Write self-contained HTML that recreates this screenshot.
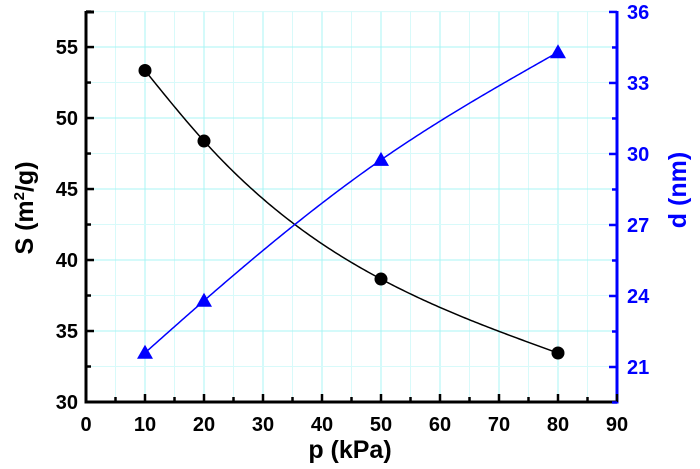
<!DOCTYPE html>
<html><head><meta charset="utf-8"><style>
html,body{margin:0;padding:0;background:#fff;}
svg{display:block;font-family:"Liberation Sans",Arial,sans-serif;font-weight:bold;}
</style></head><body>
<svg id="chart" width="700" height="469" viewBox="0 0 700 469">
<g id="grid"></g>
<g id="axes"></g>
<g id="series"></g>
<text x="350" y="458" text-anchor="middle" font-size="25" fill="#000">p (kPa)</text>
<text transform="translate(33,208) rotate(-90)" text-anchor="middle" font-size="25" fill="#000">S (m<tspan font-size="15" dy="-9">2</tspan><tspan dy="9">/g)</tspan></text>
<text transform="translate(686,190) rotate(-90)" text-anchor="middle" font-size="25" fill="#0000ff">d (nm)</text>
</svg>
<script>
const pressures = [10, 20, 50, 80];
const surfaceArea = [53.35, 48.38, 38.66, 33.45];
const diameter = [21.6, 23.8, 29.75, 34.3];
const xTicks = [0, 10, 20, 30, 40, 50, 60, 70, 80, 90];
const leftTicks = [30, 35, 40, 45, 50, 55];
const rightTicks = [21, 24, 27, 30, 33, 36];

const L = 86, R = 617, T = 11, B = 402;
const X = v => L + (v - 0) / 90 * (R - L);
const YL = v => B - (v - 30) / (57.54 - 30) * (B - T);
const YR = v => 367 - (v - 21) * 23.67;
const NS = "http://www.w3.org/2000/svg";
function mk(tag, attrs, parent) {
  const e = document.createElementNS(NS, tag);
  for (const k in attrs) e.setAttribute(k, attrs[k]);
  parent.appendChild(e); return e;
}
const grid = document.getElementById('grid');
const axes = document.getElementById('axes');
const series = document.getElementById('series');

for (let v = 5; v < 90; v += 5) {
  const g = mk('line', {x1: X(v), x2: X(v), y1: T, y2: B, stroke: v % 10 ? '#d8fafa' : '#a8f4f4', 'stroke-width': 1}, grid);
  
  
}
for (let v = 32.5; v < 57.6; v += 2.5) {
  const g = mk('line', {x1: L, x2: R, y1: YL(v), y2: YL(v), stroke: (v % 5) ? '#d8fafa' : '#a8f4f4', 'stroke-width': 1}, grid);
  
  
}

let a = mk('line', {x1: L, x2: L, y1: T, y2: B + 1.5, stroke: '#000', 'stroke-width': 3}, axes);
 
a = mk('line', {x1: L, x2: R, y1: B, y2: B, stroke: '#000', 'stroke-width': 3}, axes);
 
a = mk('line', {x1: R, x2: R, y1: T, y2: B + 1.5, stroke: '#0000ff', 'stroke-width': 3}, axes);
 
mk('line', {x1: L, x2: L + 8, y1: T + 1, y2: T + 1, stroke: '#000', 'stroke-width': 3}, axes);

xTicks.forEach(v => {
  mk('line', {x1: X(v), x2: X(v), y1: B, y2: B - 8, stroke: '#000', 'stroke-width': 2.5}, axes);
  if (v < 90) mk('line', {x1: X(v + 5), x2: X(v + 5), y1: B, y2: B - 5, stroke: '#000', 'stroke-width': 2.5}, axes);
  const t = mk('text', {x: X(v), y: B + 29, 'text-anchor': 'middle', 'font-size': 20, fill: '#000'}, axes);
  t.textContent = v;
  
  
});
leftTicks.forEach(v => {
  mk('line', {x1: L, x2: L + 8, y1: YL(v), y2: YL(v), stroke: '#000', 'stroke-width': 2.5}, axes);
  mk('line', {x1: L, x2: L + 5, y1: YL(v + 2.5), y2: YL(v + 2.5), stroke: '#000', 'stroke-width': 2.5}, axes);
  const t = mk('text', {x: L - 8, y: YL(v) + 7, 'text-anchor': 'end', 'font-size': 20, fill: '#000'}, axes);
  t.textContent = v;
  
  
});
rightTicks.forEach(v => {
  mk('line', {x1: R, x2: R - 8, y1: YR(v), y2: YR(v), stroke: '#0000ff', 'stroke-width': 2.5}, axes);
  mk('line', {x1: R, x2: R - 5, y1: YR(v - 1.5), y2: YR(v - 1.5), stroke: '#0000ff', 'stroke-width': 2.5}, axes);
  const t = mk('text', {x: R + 10, y: YR(v) + 7, 'text-anchor': 'start', 'font-size': 20, fill: '#0000ff'}, axes);
  t.textContent = v;
  
  
});

// natural cubic spline through points (x increasing)
function spline(xs, ys) {
  const n = xs.length, h = [], al = [], l = [1], mu = [0], z = [0], c = new Array(n).fill(0), b = [], d = [];
  for (let i = 0; i < n - 1; i++) h[i] = xs[i + 1] - xs[i];
  for (let i = 1; i < n - 1; i++) al[i] = 3 / h[i] * (ys[i + 1] - ys[i]) - 3 / h[i - 1] * (ys[i] - ys[i - 1]);
  for (let i = 1; i < n - 1; i++) {
    l[i] = 2 * (xs[i + 1] - xs[i - 1]) - h[i - 1] * mu[i - 1];
    mu[i] = h[i] / l[i];
    z[i] = (al[i] - h[i - 1] * z[i - 1]) / l[i];
  }
  for (let j = n - 2; j >= 0; j--) {
    c[j] = (j > 0 ? z[j] : 0) - mu[j] * c[j + 1];
    b[j] = (ys[j + 1] - ys[j]) / h[j] - h[j] * (c[j + 1] + 2 * c[j]) / 3;
    d[j] = (c[j + 1] - c[j]) / (3 * h[j]);
  }
  c[0] = 0;
  return x => {
    let i = 0;
    while (i < n - 2 && x > xs[i + 1]) i++;
    const dx = x - xs[i];
    return ys[i] + b[i] * dx + c[i] * dx * dx + d[i] * dx * dx * dx;
  };
}
function curvePath(xs, ys, yFn) {
  const f = spline(xs, ys);
  let d = '';
  const x0 = xs[0], x1 = xs[xs.length - 1];
  for (let k = 0; k <= 200; k++) {
    const x = x0 + (x1 - x0) * k / 200;
    d += (k ? 'L' : 'M') + X(x).toFixed(2) + ',' + yFn(f(x)).toFixed(2);
  }
  return d;
}
let ln = mk('path', {d: curvePath(pressures, surfaceArea, YL), fill: 'none', stroke: '#000', 'stroke-width': 1.5}, series);
 
ln = mk('path', {d: curvePath(pressures, diameter, YR), fill: 'none', stroke: '#0000ff', 'stroke-width': 1.5}, series);
 
pressures.forEach((p, i) => {
  const c = mk('circle', {cx: X(p), cy: YL(surfaceArea[i]), r: 6.5, fill: '#000'}, series);
  
  
});
pressures.forEach((p, i) => {
  const x = X(p), y = YR(diameter[i]);
  const t = mk('polygon', {points: `${x},${y - 8} ${x - 8},${y + 6} ${x + 8},${y + 6}`, fill: '#0000ff'}, series);
  
  
});
</script>
</body></html>
